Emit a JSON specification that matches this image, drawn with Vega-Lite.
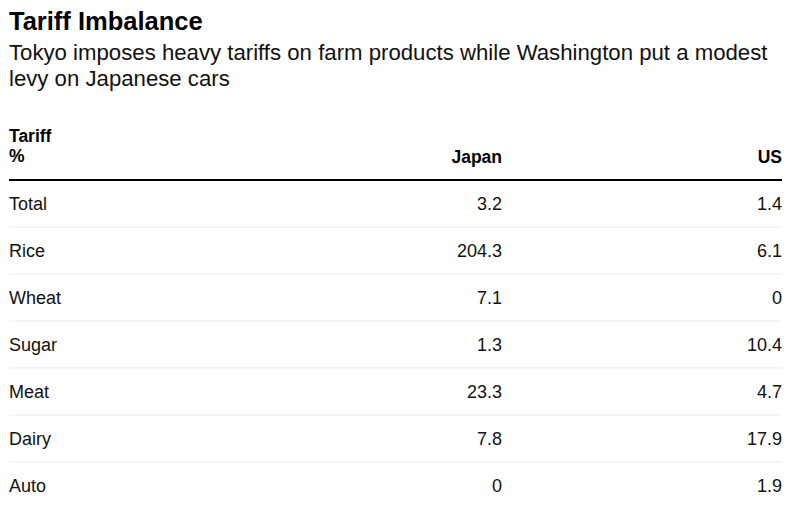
{
  "$schema": "https://vega.github.io/schema/vega-lite/v6.json",
  "width": 773,
  "height": 374,
  "autosize": {"type": "none"},
  "padding": {"left": 9, "top": 133, "right": 24, "bottom": 0},
  "background": "white",
  "config": {"view": {"stroke": null}, "font": "Liberation Sans"},
  "title": {
    "text": "Tariff Imbalance",
    "subtitle": ["Tokyo imposes heavy tariffs on farm products while Washington put a modest", "levy on Japanese cars"],
    "anchor": "start",
    "frame": "group",
    "font": "Liberation Sans",
    "fontSize": 25.5,
    "fontWeight": "bold",
    "color": "#000",
    "subtitleFont": "Liberation Sans",
    "subtitleFontSize": 22.2,
    "subtitleColor": "#111",
    "subtitleLineHeight": 26,
    "subtitlePadding": 6,
    "offset": 38
  },
  "datasets": {
    "tariffs": [
      {"category": "Total", "Japan": 3.2, "US": 1.4},
      {"category": "Rice", "Japan": 204.3, "US": 6.1},
      {"category": "Wheat", "Japan": 7.1, "US": 0},
      {"category": "Sugar", "Japan": 1.3, "US": 10.4},
      {"category": "Meat", "Japan": 23.3, "US": 4.7},
      {"category": "Dairy", "Japan": 7.8, "US": 17.9},
      {"category": "Auto", "Japan": 0, "US": 1.9}
    ]
  },
  "data": {"name": "tariffs"},
  "layer": [
    {
      "transform": [{"filter": "datum.category !== 'Total'"}],
      "mark": {"type": "rule", "color": "#ececec", "strokeWidth": 1},
      "encoding": {
        "y": {"field": "category", "type": "nominal", "bandPosition": 0, "axis": null,
              "scale": {"type": "band", "domain": ["header", "Total", "Rice", "Wheat", "Sugar", "Meat", "Dairy", "Auto"], "range": [0, 376], "paddingInner": 0, "paddingOuter": 0}}
      }
    },
    {
      "data": {"values": [{"edge": "Total"}]},
      "mark": {"type": "rule", "color": "#000", "strokeWidth": 2},
      "encoding": {
        "y": {"field": "edge", "type": "nominal", "bandPosition": 0, "axis": null,
              "scale": {"type": "band", "domain": ["header", "Total", "Rice", "Wheat", "Sugar", "Meat", "Dairy", "Auto"], "range": [0, 376], "paddingInner": 0, "paddingOuter": 0}}
      }
    },
    {
      "mark": {"type": "text", "align": "left", "baseline": "alphabetic", "dy": 6, "fontSize": 18, "color": "#111"},
      "encoding": {
        "x": {"value": 0},
        "y": {"field": "category", "type": "nominal", "axis": null,
              "scale": {"type": "band", "domain": ["header", "Total", "Rice", "Wheat", "Sugar", "Meat", "Dairy", "Auto"], "range": [0, 376], "paddingInner": 0, "paddingOuter": 0}},
        "text": {"field": "category", "type": "nominal"}
      }
    },
    {
      "transform": [{"fold": ["Japan", "US"], "as": ["country", "tariff"]}],
      "mark": {"type": "text", "align": "right", "baseline": "alphabetic", "dy": 6, "fontSize": 18, "color": "#111"},
      "encoding": {
        "x": {"field": "country", "type": "nominal", "bandPosition": 1, "axis": null,
              "scale": {"type": "band", "domain": ["Japan", "US"], "paddingInner": 0, "paddingOuter": 0.3804, "align": 1}},
        "y": {"field": "category", "type": "nominal", "axis": null,
              "scale": {"type": "band", "domain": ["header", "Total", "Rice", "Wheat", "Sugar", "Meat", "Dairy", "Auto"], "range": [0, 376], "paddingInner": 0, "paddingOuter": 0}},
        "text": {"field": "tariff", "type": "nominal"}
      }
    },
    {
      "data": {"values": [{"country": "Japan", "row": "header"}, {"country": "US", "row": "header"}]},
      "mark": {"type": "text", "align": "right", "baseline": "alphabetic", "dy": 6, "fontSize": 17.5, "fontWeight": "bold", "color": "#000"},
      "encoding": {
        "x": {"field": "country", "type": "nominal", "bandPosition": 1, "axis": null,
              "scale": {"type": "band", "domain": ["Japan", "US"], "paddingInner": 0, "paddingOuter": 0.3804, "align": 1}},
        "y": {"field": "row", "type": "nominal", "axis": null,
              "scale": {"type": "band", "domain": ["header", "Total", "Rice", "Wheat", "Sugar", "Meat", "Dairy", "Auto"], "range": [0, 376], "paddingInner": 0, "paddingOuter": 0}},
        "text": {"field": "country", "type": "nominal"}
      }
    },
    {
      "data": {"values": [{"label": "Tariff\n%", "row": "header"}]},
      "mark": {"type": "text", "align": "left", "baseline": "alphabetic", "dy": -14.5, "lineHeight": 20, "lineBreak": "\n", "fontSize": 17.5, "fontWeight": "bold", "color": "#000"},
      "encoding": {
        "x": {"value": 0},
        "y": {"field": "row", "type": "nominal", "axis": null,
              "scale": {"type": "band", "domain": ["header", "Total", "Rice", "Wheat", "Sugar", "Meat", "Dairy", "Auto"], "range": [0, 376], "paddingInner": 0, "paddingOuter": 0}},
        "text": {"field": "label", "type": "nominal"}
      }
    }
  ]
}
